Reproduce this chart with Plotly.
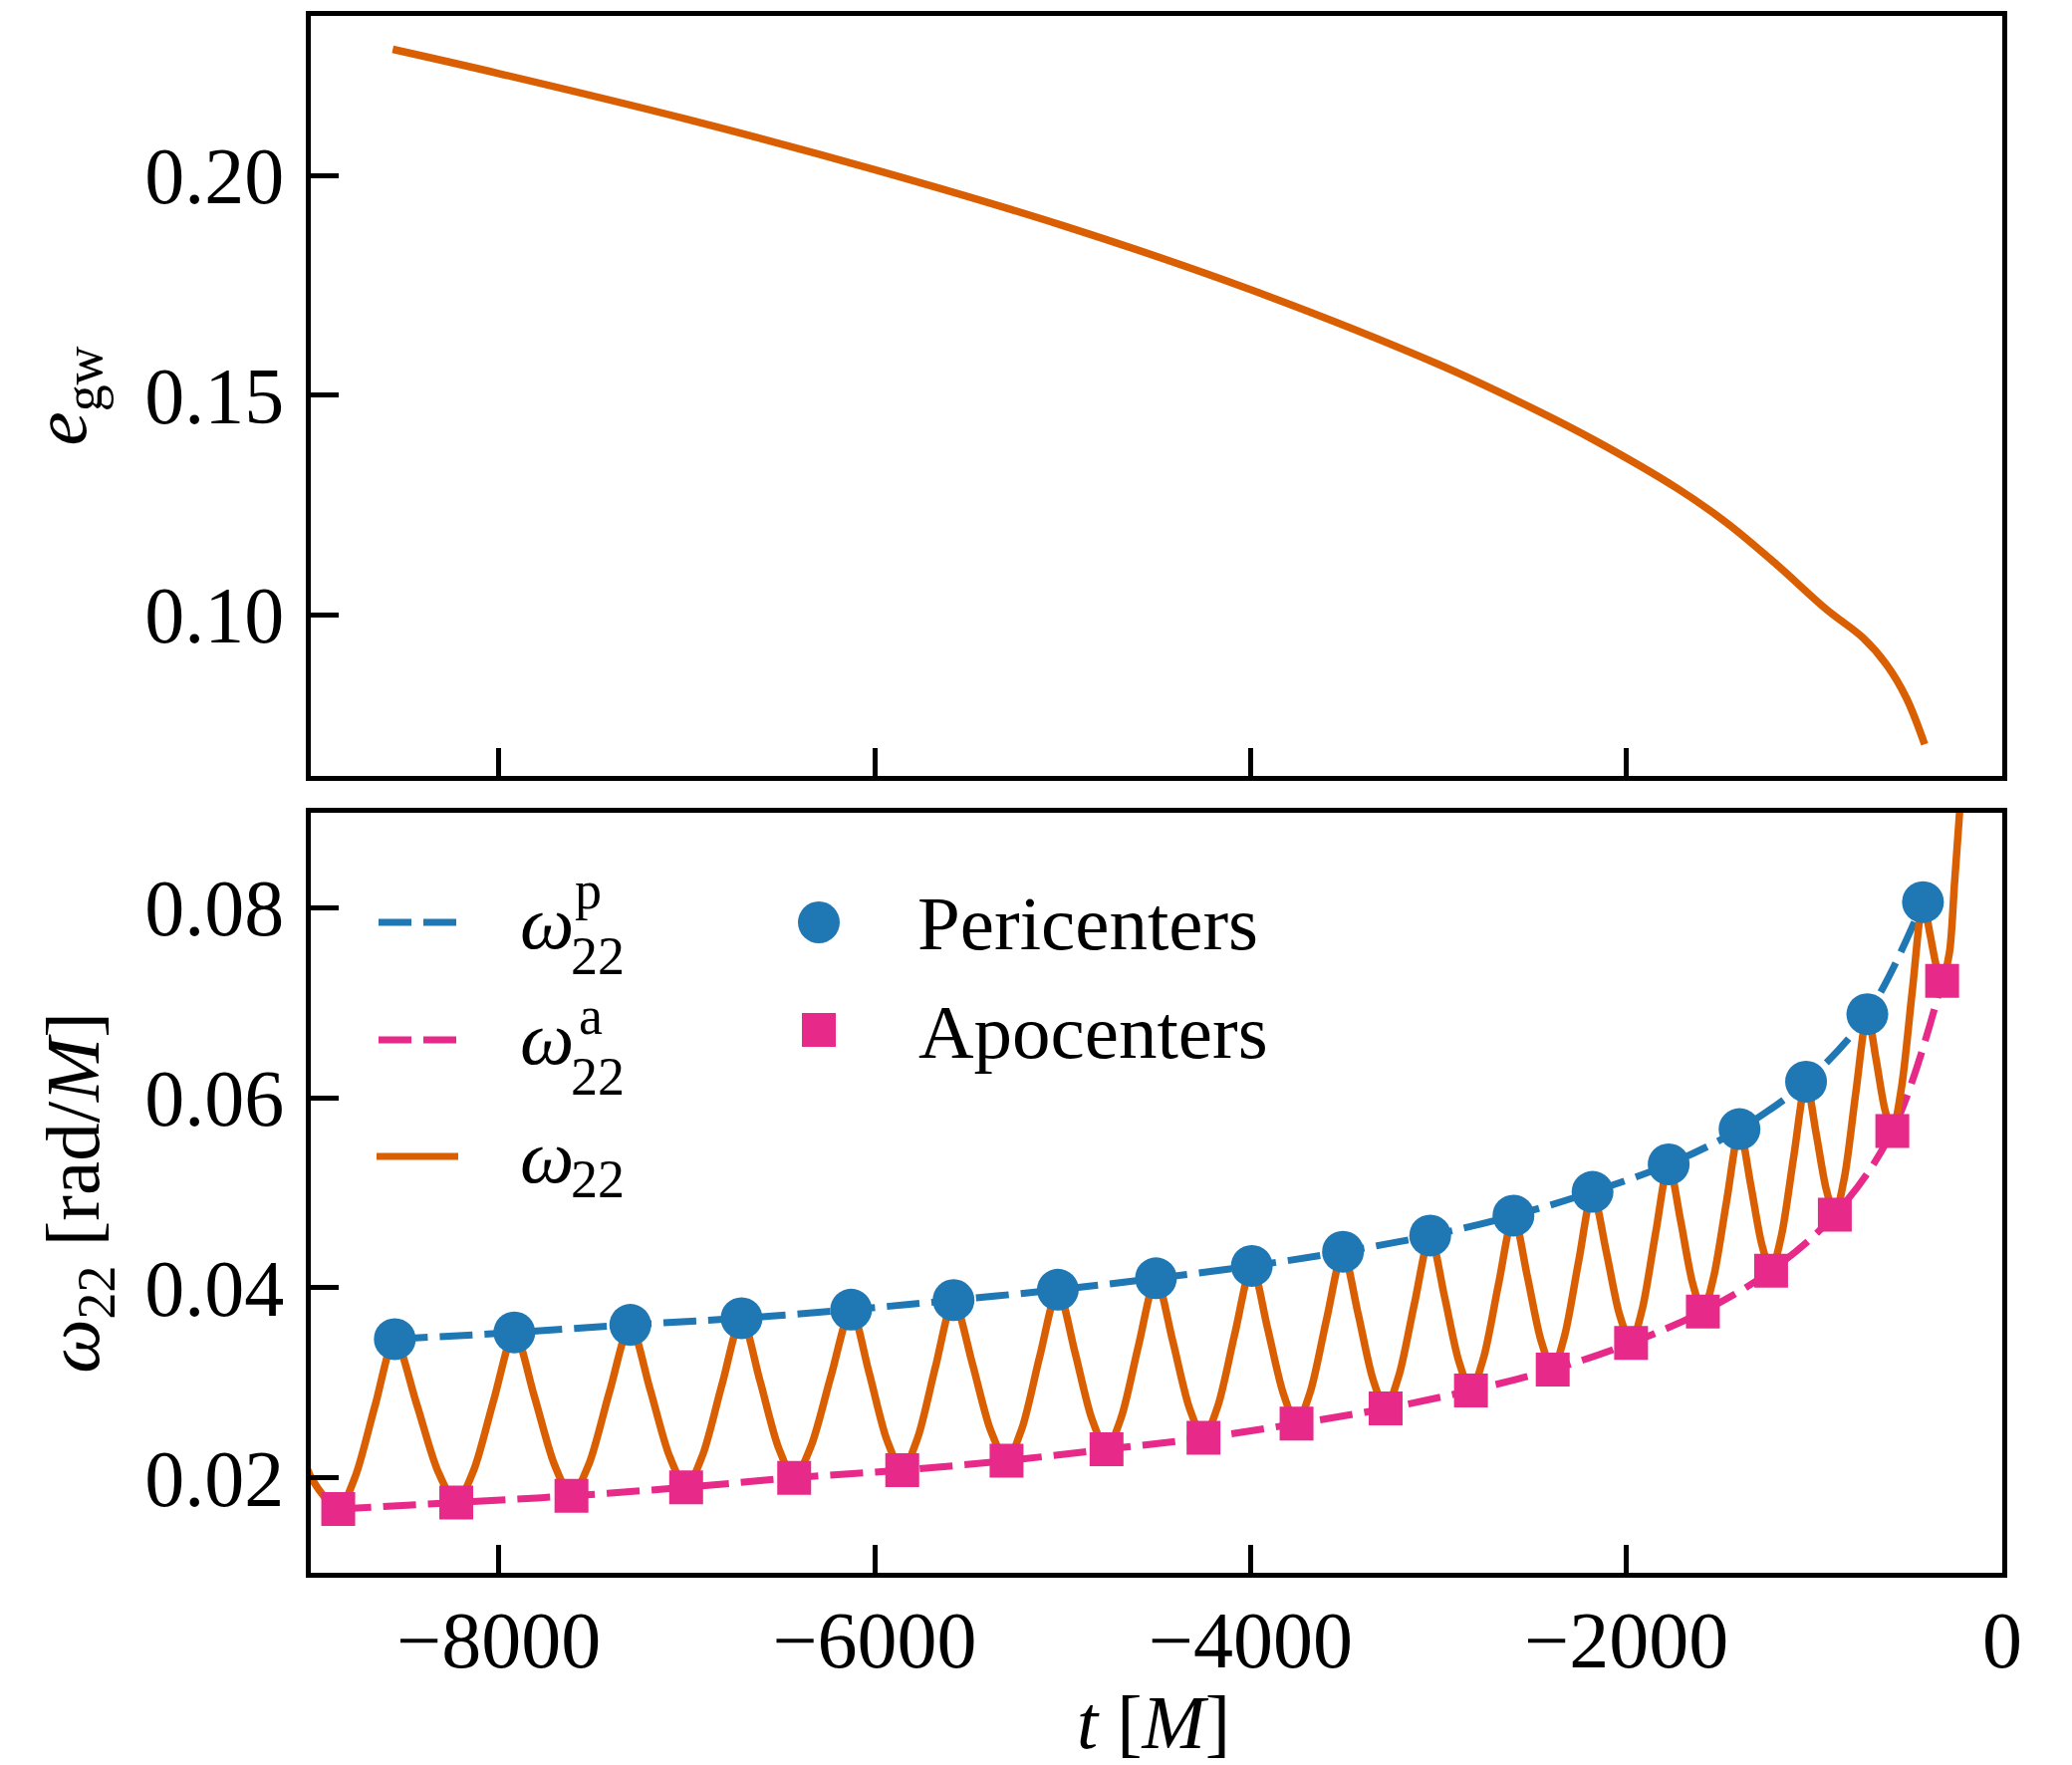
import plotly.graph_objects as go

# ---------------- data ----------------
# gravitational-wave eccentricity
t_egw = [-8564, -8000, -7000, -6000, -5000, -4000, -3000, -2500, -2173,
         -1731, -1466, -1200, -935, -740, -617, -511, -413]
e_gw = [0.2287, 0.2232, 0.2128, 0.2013, 0.1886, 0.1740, 0.1570, 0.1470, 0.1398,
        0.1288, 0.1209, 0.1114, 0.1012, 0.0947, 0.0887, 0.0811, 0.0705]

# omega_22 frequency samples
t_w22 = [-9050, -8995,
         -8854, -8764, -8658, -8553, -8439, -8324,
         -8226, -8133, -8025, -7917, -7811, -7704,
         -7613, -7519, -7410, -7300, -7196, -7092,
         -7003, -6915, -6811, -6708, -6610, -6512,
         -6428, -6337, -6231, -6125, -6030, -5935,
         -5853, -5771, -5676, -5580, -5481, -5383,
         -5298, -5216, -5121, -5025, -4934, -4844,
         -4766, -4687, -4595, -4503, -4414, -4326,
         -4250, -4173, -4083, -3993, -3910, -3826,
         -3755, -3681, -3595, -3508, -3429, -3349,
         -3281, -3210, -3127, -3044, -2968, -2892,
         -2827, -2759, -2680, -2601, -2528, -2455,
         -2392, -2328, -2254, -2180, -2108, -2037,
         -1975, -1915, -1845, -1775, -1711, -1648,
         -1593, -1535, -1466, -1398, -1339, -1280,
         -1230, -1174, -1109, -1044, -990, -937,
         -891, -839, -779, -718, -671, -625,
         -585, -536, -479, -422, -386, -351,
         -320, -281, -254, -228, -205]
w22 = [0.0228, 0.0199,
       0.0167, 0.0201, 0.0276, 0.0346, 0.0279, 0.0207,
       0.0174, 0.0208, 0.0283, 0.0353, 0.0286, 0.0214,
       0.0181, 0.0215, 0.0291, 0.0361, 0.0294, 0.0223,
       0.0190, 0.0224, 0.0299, 0.0368, 0.0302, 0.0232,
       0.0200, 0.0234, 0.0308, 0.0377, 0.0311, 0.0240,
       0.0208, 0.0242, 0.0317, 0.0387, 0.0321, 0.0250,
       0.0218, 0.0252, 0.0328, 0.0398, 0.0332, 0.0262,
       0.0230, 0.0264, 0.0340, 0.0410, 0.0344, 0.0274,
       0.0242, 0.0276, 0.0352, 0.0423, 0.0358, 0.0289,
       0.0257, 0.0291, 0.0367, 0.0438, 0.0374, 0.0304,
       0.0273, 0.0308, 0.0384, 0.0455, 0.0391, 0.0323,
       0.0292, 0.0327, 0.0404, 0.0476, 0.0413, 0.0345,
       0.0314, 0.0350, 0.0428, 0.0501, 0.0439, 0.0372,
       0.0342, 0.0378, 0.0457, 0.0530, 0.0470, 0.0405,
       0.0375, 0.0412, 0.0492, 0.0567, 0.0509, 0.0446,
       0.0418, 0.0456, 0.0539, 0.0617, 0.0562, 0.0504,
       0.0477, 0.0517, 0.0606, 0.0688, 0.0640, 0.0588,
       0.0565, 0.0611, 0.0712, 0.0806, 0.0774, 0.0739,
       0.0723, 0.0753, 0.0826, 0.0898, 0.0960]

# pericenter / apocenter extrema
t_peri = [-8553, -7917, -7300, -6708, -6125, -5580, -5025, -4503, -3993,
          -3508, -3044, -2601, -2180, -1775, -1398, -1044, -718, -422]
w_peri = [0.0346, 0.0353, 0.0361, 0.0368, 0.0377, 0.0387, 0.0398, 0.0410, 0.0423,
          0.0438, 0.0455, 0.0476, 0.0501, 0.0530, 0.0567, 0.0617, 0.0688, 0.0806]
t_apo = [-8854, -8226, -7613, -7003, -6428, -5853, -5298, -4766, -4250, -3755,
         -3281, -2827, -2392, -1975, -1593, -1230, -891, -585, -320]
w_apo = [0.0167, 0.0174, 0.0181, 0.0190, 0.0200, 0.0208, 0.0218, 0.0230, 0.0242, 0.0257,
         0.0273, 0.0292, 0.0314, 0.0342, 0.0375, 0.0418, 0.0477, 0.0565, 0.0723]

x_ticks = [-8000, -6000, -4000, -2000, 0]
x_ticktext = ["\u22128000", "\u22126000", "\u22124000", "\u22122000", "0"]
y_top_ticks = [0.10, 0.15, 0.20]
y_bot_ticks = [0.02, 0.04, 0.06, 0.08]

# ---------------- style ----------------
BLUE = "#1f77b4"
PINK = "#e7298a"
ORANGE = "#d95f02"
FONT = "Liberation Serif"
TICK_SIZE = 80
TEXT_SIZE = 77
W, H = 2080, 1772
ML, MR, MT, MB = 312, 70, 16, 193
PW, PH = W - ML - MR, H - MT - MB

def px_x(x):
    return (x - ML) / PW

def px_y(y):
    return (H - MB - y) / PH

fig = go.Figure()

# top panel: eccentricity
fig.add_trace(go.Scatter(x=t_egw, y=e_gw, mode="lines", xaxis="x", yaxis="y",
                         line=dict(color=ORANGE, width=7.5, shape="spline", smoothing=1.0),
                         name="e_gw", showlegend=False))

# bottom panel
fig.add_trace(go.Scatter(x=t_peri, y=w_peri, mode="lines", xaxis="x2", yaxis="y2",
                         line=dict(color=BLUE, width=7, dash="33px,12px", shape="spline"),
                         name="omega22 p", showlegend=False))
fig.add_trace(go.Scatter(x=t_apo, y=w_apo, mode="lines", xaxis="x2", yaxis="y2",
                         line=dict(color=PINK, width=7, dash="33px,12px", shape="spline"),
                         name="omega22 a", showlegend=False))
fig.add_trace(go.Scatter(x=t_w22, y=w22, mode="lines", xaxis="x2", yaxis="y2",
                         line=dict(color=ORANGE, width=7.5, shape="spline", smoothing=0.8),
                         name="omega22", showlegend=False))
fig.add_trace(go.Scatter(x=t_peri, y=w_peri, mode="markers", xaxis="x2", yaxis="y2",
                         marker=dict(color=BLUE, size=42, symbol="circle", line=dict(width=0)),
                         name="Pericenters", showlegend=False))
fig.add_trace(go.Scatter(x=t_apo, y=w_apo, mode="markers", xaxis="x2", yaxis="y2",
                         marker=dict(color=PINK, size=34, symbol="square", line=dict(width=0)),
                         name="Apocenters", showlegend=False))

axis_common = dict(showline=True, linecolor="black", linewidth=4.5, mirror=True,
                   ticks="inside", ticklen=28, tickwidth=5, tickcolor="black",
                   showgrid=False, zeroline=False, automargin=False,
                   tickfont=dict(family=FONT, size=TICK_SIZE, color="black"))

top_bottom_split = (H - MB - 779) / PH
bot_top_split = (H - MB - 816) / PH

fig.update_layout(
    width=W, height=H,
    margin=dict(l=ML, r=MR, t=MT, b=MB, autoexpand=False),
    paper_bgcolor="white", plot_bgcolor="white",
    font=dict(family=FONT, size=TEXT_SIZE, color="black"),
    showlegend=False,
    xaxis=dict(domain=[0, 1], anchor="y", range=[-9000, 0], tickvals=x_ticks,
               showticklabels=False, **axis_common),
    yaxis=dict(domain=[top_bottom_split, 1], anchor="x", range=[0.0633, 0.2363],
               tickvals=y_top_ticks, tickformat=".2f", ticklabelstandoff=6,
               title=dict(text="<i>e</i><sub>gw</sub>", standoff=35,
                          font=dict(family=FONT, size=TEXT_SIZE)),
               **axis_common),
    xaxis2=dict(domain=[0, 1], anchor="y2", range=[-9000, 0], tickvals=x_ticks,
                ticktext=x_ticktext, ticklabelstandoff=-6,
                **axis_common),
    yaxis2=dict(domain=[0, bot_top_split], anchor="x2", range=[0.01, 0.09],
                tickvals=y_bot_ticks, tickformat=".2f", ticklabelstandoff=6,
                title=dict(text="<i>ω</i><sub>22</sub> [rad/<i>M</i>]", standoff=22,
                           font=dict(family=FONT, size=TEXT_SIZE)),
                **axis_common),
)

# ---------------- legend and x title (placed in pixel layout) ----------------
shapes = []
annotations = []

def seg(x0, x1, y, color, dash):
    shapes.append(dict(type="line", xref="paper", yref="paper",
                       x0=px_x(x0), x1=px_x(x1), y0=px_y(y), y1=px_y(y),
                       line=dict(color=color, width=7, dash=dash)))

def label(text, x, y, size, xanchor="left"):
    annotations.append(dict(text=text, x=px_x(x), y=px_y(y), xref="paper", yref="paper",
                            showarrow=False, xanchor=xanchor, yanchor="middle",
                            borderpad=0,
                            font=dict(family=FONT, size=size, color="black")))

# bottom axis title
label("<i>t</i> [<i>M</i>]", 1158, 1729, 76, xanchor="center")

seg(380, 458, 926, BLUE, "33px,12px")
seg(380, 458, 1044, PINK, "33px,12px")
seg(378, 460, 1161, ORANGE, "solid")

label("<i>ω</i>", 521, 926, TEXT_SIZE)
label("22", 572, 960, 54)
label("p", 576, 894, 54)
label("<i>ω</i>", 521, 1042, TEXT_SIZE)
label("22", 572, 1081, 54)
label("a", 580, 1020, 54)
label("<i>ω</i>", 521, 1161, TEXT_SIZE)
label("22", 572, 1184, 54)

# marker samples
shapes.append(dict(type="circle", xref="paper", yref="paper",
                   x0=px_x(801), x1=px_x(843), y0=px_y(947), y1=px_y(905),
                   fillcolor=BLUE, line=dict(width=0)))
shapes.append(dict(type="rect", xref="paper", yref="paper",
                   x0=px_x(805), x1=px_x(839), y0=px_y(1051), y1=px_y(1017),
                   fillcolor=PINK, line=dict(width=0)))
label("Pericenters", 920, 927, TEXT_SIZE)
label("Apocenters", 921, 1036, TEXT_SIZE)

fig.update_layout(shapes=shapes, annotations=annotations)

fig.write_html("out.html")
